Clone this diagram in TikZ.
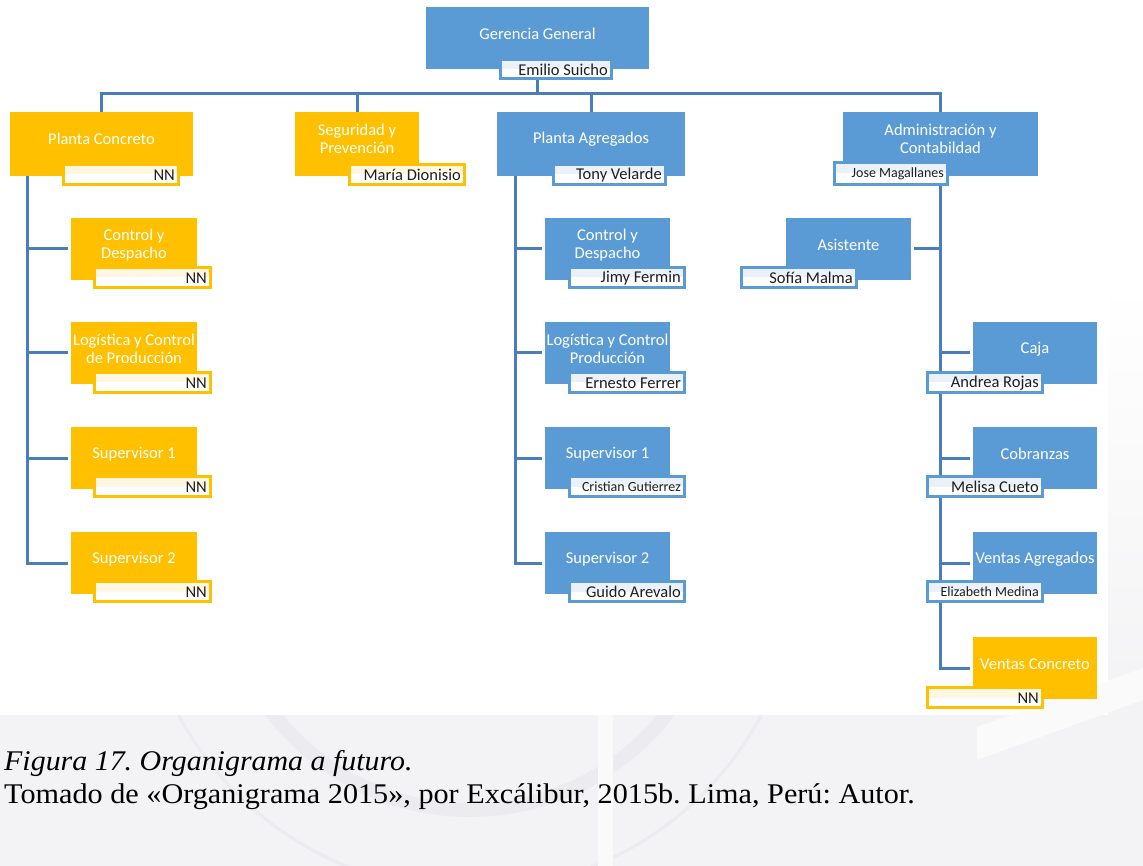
\documentclass[tikz,border=0pt]{standalone}
\usepackage{fontspec}
\setmainfont{Liberation Serif}
\newfontfamily\carl{Carlito}
\usetikzlibrary{calc}
\pgfdeclarelayer{wm}
\pgfdeclarelayer{bg}
\pgfsetlayers{wm,bg,main}

\definecolor{orgblue}{RGB}{91,155,213}
\definecolor{orgorange}{RGB}{255,192,0}
\definecolor{linkblue}{RGB}{74,126,187}
\definecolor{tintblue}{RGB}{234,241,250}
\definecolor{tintorange}{RGB}{255,247,226}
\definecolor{namecol}{RGB}{30,30,30}
\definecolor{wmgray}{RGB}{243,243,245}
\definecolor{wmdark}{RGB}{236,236,240}
\definecolor{wmlight}{RGB}{250,250,251}

\tikzset{
  unit/.style={rectangle, inner sep=0pt, draw=none},
  unittitle/.style={text=white, font=\carl\fontsize{16.5}{17.5}\selectfont, align=center, inner sep=0pt},
  namebox/.style={rectangle, inner sep=0pt, fill=white, line width=2.6pt},
  nametext/.style={text=namecol, font=\carl\fontsize{16.5}{18}\selectfont, inner sep=0pt, anchor=east},
  smallname/.style={nametext, font=\carl\fontsize{14}{16}\selectfont},
  conn/.style={draw=linkblue, line width=3pt},
  captext/.style={inner sep=0pt, anchor=base west, text=black},
}

% coloured unit box with its title: name, x1, y1, x2, y2, colour, title
\newcommand\orgunit[7]{%
  \node[unit, fill=#6, minimum width={(#4-#2)*1pt}, minimum height={(#5-#3)*1pt}]
    (#1) at ({(#2+#4)/2},{(#3+#5)/2}) {};
  \node[unittitle] (#1-t) at ({(#2+#4)/2},{#3+27}) {#7};
}
% framed label with the person in charge: name, x1, y1, x2, y2, frame, tint, text, text style
\newcommand\orgname[9]{%
  \node[namebox, draw=#6, minimum width={(#4-#2-2.6)*1pt}, minimum height={(#5-#3-2.6)*1pt}]
    (#1) at ({(#2+#4)/2},{(#3+#5)/2}) {};
  \fill[#7] ({#2+2.6},{#3+2.6}) rectangle ({#4-2.6},{(#3+#5)/2});
  \node[#9] (#1-t) at ({#4-5},{(#3+#5)/2+0.5}) {#8};
}

\begin{document}
\frenchspacing
\begin{tikzpicture}[x=1pt, y=-1pt]
\useasboundingbox (0,0) rectangle (1143,866);

% faint seal printed behind the page
\begin{pgfonlayer}{wm}
  \fill[wmgray] (0,715) rectangle (1143,866);
  \shade[top color=white, bottom color=wmgray] (1108,280) rectangle (1143,715);
  \begin{scope}
    \clip (0,715) rectangle (1143,866);
    \draw[wmdark, line width=14pt] (470,560) circle[radius=250];
    \draw[wmdark, line width=3pt] (470,560) circle[radius=330];
  \end{scope}
  \fill[wmlight] (598,715) rectangle (613,866);
  \fill[wmlight] (977,727) -- (1143,668) -- (1143,700) -- (977,760) -- cycle;
\end{pgfonlayer}

% top
\orgunit{ger}{426}{7}{649}{69}{orgblue}{Gerencia General}
\orgname{gern}{499}{58}{613}{80}{orgblue}{tintblue}{Emilio Suicho}{nametext}

% first level
\orgunit{pc}{10}{112}{193}{176}{orgorange}{Planta Concreto}
\orgname{pcn}{62}{163}{180}{186}{orgorange}{tintorange}{NN}{nametext}
\orgunit{seg}{295}{112}{419}{176}{orgorange}{Seguridad y\\Prevención}
\orgname{segn}{348}{163}{466}{186}{orgorange}{tintorange}{María Dionisio}{nametext}
\orgunit{pa}{497}{112}{685}{176}{orgblue}{Planta Agregados}
\orgname{pan}{552}{163}{667}{186}{orgblue}{tintblue}{Tony Velarde}{nametext}
\orgunit{adm}{843}{112}{1038}{176}{orgblue}{Administración y\\Contabildad}
\orgname{admn}{833}{161}{949}{186}{orgblue}{tintblue}{Jose Magallanes}{smallname}

% Planta Concreto
\orgunit{lc1}{71}{218}{197}{280}{orgorange}{Control y\\Despacho}
\orgname{lc1n}{93}{266}{212}{289}{orgorange}{tintorange}{NN}{nametext}
\orgunit{lc2}{71}{322}{197}{384}{orgorange}{Logística y Control\\de Producción}
\orgname{lc2n}{93}{371}{212}{394}{orgorange}{tintorange}{NN}{nametext}
\orgunit{lc3}{71}{427}{197}{489}{orgorange}{Supervisor 1}
\orgname{lc3n}{93}{475}{212}{498}{orgorange}{tintorange}{NN}{nametext}
\orgunit{lc4}{71}{532}{197}{594}{orgorange}{Supervisor 2}
\orgname{lc4n}{93}{580}{212}{603}{orgorange}{tintorange}{NN}{nametext}

% Planta Agregados
\orgunit{mc1}{545}{218}{670}{280}{orgblue}{Control y\\Despacho}
\orgname{mc1n}{568}{266}{686}{289}{orgblue}{tintblue}{Jimy Fermin}{nametext}
\orgunit{mc2}{545}{322}{670}{384}{orgblue}{Logística y Control\\Producción}
\orgname{mc2n}{568}{371}{686}{394}{orgblue}{tintblue}{Ernesto Ferrer}{nametext}
\orgunit{mc3}{545}{427}{670}{489}{orgblue}{Supervisor 1}
\orgname{mc3n}{568}{475}{686}{498}{orgblue}{tintblue}{Cristian Gutierrez}{smallname}
\orgunit{mc4}{545}{532}{670}{594}{orgblue}{Supervisor 2}
\orgname{mc4n}{568}{580}{686}{603}{orgblue}{tintblue}{Guido Arevalo}{nametext}

% Administración y Contabildad
\orgunit{asi}{786}{218}{911}{280}{orgblue}{Asistente}
\orgname{asin}{740}{266}{858}{289}{orgblue}{tintblue}{Sofía Malma}{nametext}
\orgunit{rc1}{973}{322}{1097}{384}{orgblue}{Caja}
\orgname{rc1n}{926}{371}{1044}{394}{orgblue}{tintblue}{Andrea Rojas}{nametext}
\orgunit{rc2}{973}{427}{1097}{489}{orgblue}{Cobranzas}
\orgname{rc2n}{926}{475}{1044}{498}{orgblue}{tintblue}{Melisa Cueto}{nametext}
\orgunit{rc3}{973}{532}{1097}{594}{orgblue}{Ventas Agregados}
\orgname{rc3n}{926}{580}{1044}{603}{orgblue}{tintblue}{Elizabeth Medina}{smallname}
\orgunit{rc4}{973}{637}{1097}{699}{orgorange}{Ventas Concreto}
\orgname{rc4n}{926}{686}{1044}{709}{orgorange}{tintorange}{NN}{nametext}

% connectors
\begin{pgfonlayer}{bg}
  \coordinate (bus) at (0,94);
  \draw[conn] (ger.center) -- (ger.center |- bus);
  \draw[conn] (pc.north) -- (pc.north |- bus) -- (adm.north |- bus) -- (adm.north);
  \draw[conn] (seg.north) -- (seg.north |- bus);
  \draw[conn] (pa.north) -- (pa.north |- bus);
  % Planta Concreto branch
  \coordinate (pcv) at (27,176);
  \draw[conn] (pcv) |- ([xshift=-3pt]lc4.west);
  \foreach \c in {lc1,lc2,lc3} \draw[conn] (pcv |- \c.west) -- ([xshift=-3pt]\c.west);
  % Planta Agregados branch
  \coordinate (pav) at (515,176);
  \draw[conn] (pav) |- ([xshift=-3pt]mc4.west);
  \foreach \c in {mc1,mc2,mc3} \draw[conn] (pav |- \c.west) -- ([xshift=-3pt]\c.west);
  % Administración branch
  \draw[conn] (adm.south) |- ([xshift=-3pt]rc4.west);
  \draw[conn] ([xshift=3pt]asi.east) -- (adm.south |- asi.east);
  \foreach \c in {rc1,rc2,rc3} \draw[conn] (adm.south |- \c.west) -- ([xshift=-3pt]\c.west);
\end{pgfonlayer}

% caption
\node[captext, font=\fontsize{28.5}{32}\selectfont\itshape] (cap1) at (4,770)
  {\scalebox{1.05}[1]{Figura 17. Organigrama a futuro.}};
\node[captext, font=\fontsize{28.5}{32}\selectfont] (cap2) at (4,803)
  {\scalebox{1.06}[1]{Tomado de «Organigrama 2015», por Excálibur, 2015b. Lima, Perú: Autor.}};
\end{tikzpicture}
\end{document}
